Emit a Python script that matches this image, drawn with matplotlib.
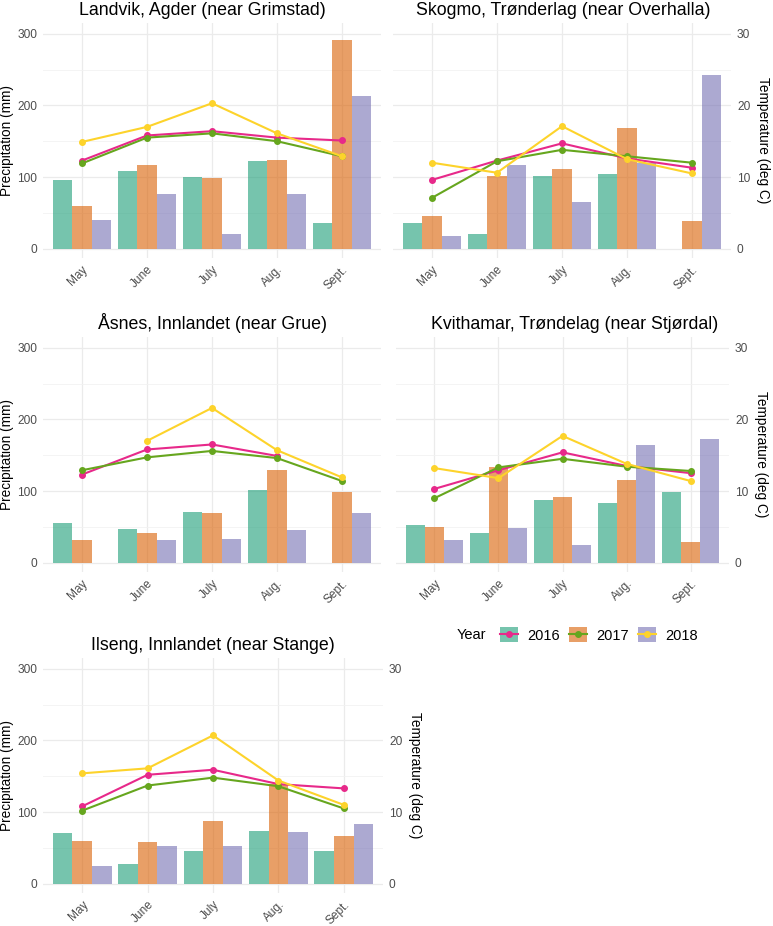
import numpy as np
import matplotlib
matplotlib.use("Agg")
import matplotlib.pyplot as plt
from matplotlib.patches import Patch
from matplotlib.lines import Line2D
from matplotlib.legend_handler import HandlerTuple

plt.rcParams["font.family"] = ["Liberation Sans", "DejaVu Sans"]

months = ["May", "June", "July", "Aug.", "Sept."]
years = ["2016", "2017", "2018"]

# precipitation (mm), one row per year
landvik_precip = [[96, 109, 100, 122, 36],
                  [60, 117, 99, 124, 291],
                  [40, 76, 21, 76, 213]]
landvik_temp = [[12.3, 15.8, 16.4, 15.5, 15.1],
                [11.9, 15.5, 16.1, 15.0, 12.9],
                [14.9, 17.0, 20.3, 16.1, 12.9]]

skogmo_precip = [[36, 20, 102, 104, np.nan],
                 [45, 102, 111, 168, 39],
                 [18, 117, 65, 119, 243]]
skogmo_temp = [[9.6, 12.3, 14.7, 12.6, 11.3],
               [7.1, 12.2, 13.8, 12.9, 12.0],
               [12.0, 10.6, 17.1, 12.5, 10.5]]

asnes_precip = [[55, 47, 71, 102, np.nan],
                [32, 42, 70, 130, 99],
                [np.nan, 31, 33, 45, 69]]
asnes_temp = [[12.3, 15.8, 16.5, 14.9, np.nan],
              [12.9, 14.7, 15.6, 14.6, 11.4],
              [np.nan, 17.0, 21.6, 15.7, 11.9]]

kvithamar_precip = [[53, 42, 87, 83, 99],
                    [50, 134, 91, 116, 29],
                    [32, 49, 24, 164, 173]]
kvithamar_temp = [[10.3, 12.9, 15.4, 13.5, 12.5],
                  [9.0, 13.3, 14.5, 13.4, 12.8],
                  [13.2, 11.8, 17.7, 13.8, 11.4]]

ilseng_precip = [[71, 28, 45, 73, 45],
                 [59, 58, 88, 139, 67],
                 [24, 52, 53, 72, 83]]
ilseng_temp = [[10.8, 15.2, 15.9, 13.9, 13.3],
               [10.2, 13.7, 14.8, 13.6, 10.5],
               [15.4, 16.1, 20.7, 14.4, 11.0]]

bar_colors = ["#1B9E77", "#D95F02", "#7570B3"]
line_colors = ["#E7298A", "#66A61E", "#FDD32B"]

W, H = 773, 926
fig = plt.figure(figsize=(W / 100, H / 100), dpi=100)

TICK = 8.6
LAB = 9.8


def panel(px, title, precip, temp, title_x, left=True, right=False):
    x0, y0, x1, y1 = px
    ax = fig.add_axes([x0 / W, 1 - y1 / H, (x1 - x0) / W, (y1 - y0) / H])
    x = np.arange(1, 6)
    for i in range(3):
        ax.bar(x + (i - 1) * 0.3, precip[i], width=0.3, color=bar_colors[i],
               alpha=0.6, linewidth=0, zorder=2)
    for i in range(3):
        ax.plot(x, np.array(temp[i]) * 10, color=line_colors[i], lw=1.5,
                marker="o", ms=4, zorder=3)
    ax.set_xlim(0.4, 5.6)
    ax.set_ylim(-13, 315)
    ax.set_yticks([0, 100, 200, 300])
    ax.set_yticks([50, 150, 250], minor=True)
    ax.set_xticks(x)
    ax.set_xticklabels(months, rotation=45, ha="right", rotation_mode="anchor")
    ax.grid(True, which="major", color="#EBEBEB", lw=0.9, zorder=0)
    ax.grid(True, which="minor", axis="y", color="#F2F2F2", lw=0.6, zorder=0)
    for s in ax.spines.values():
        s.set_visible(False)
    ax.tick_params(which="both", length=0, labelsize=TICK, colors="#4D4D4D")
    ax.tick_params(axis="x", pad=4)
    ax.tick_params(axis="y", pad=4.3)
    ax.set_title(title, fontsize=12.8, x=title_x, pad=6)
    if left:
        ax.set_ylabel("Precipitation (mm)", fontsize=LAB)
        ax.yaxis.set_label_coords((14 - x0) / (x1 - x0), 0.5)
    else:
        ax.set_yticklabels([])
    if right:
        sec = ax.secondary_yaxis("right", functions=(lambda v: v / 10, lambda t: t * 10))
        sec.set_yticks([0, 10, 20, 30])
        for s in sec.spines.values():
            s.set_visible(False)
        sec.tick_params(length=0, labelsize=TICK, colors="#4D4D4D", pad=4.3)
        sec.set_ylabel("Temperature (deg C)", fontsize=LAB, rotation=-90,
                       va="bottom", labelpad=4.5)
    return ax


panel((43, 23, 381, 258), "Landvik, Agder (near Grimstad)", landvik_precip, landvik_temp, 0.473)
panel((393, 23, 731, 258), "Skogmo, Trønderlag (near Overhalla)", skogmo_precip, skogmo_temp, 0.505,
      left=False, right=True)
panel((43, 337, 381, 572), "Åsnes, Innlandet (near Grue)", asnes_precip, asnes_temp, 0.5)
panel((396, 337, 729, 572), "Kvithamar, Trøndelag (near Stjørdal)", kvithamar_precip, kvithamar_temp, 0.535,
      left=False, right=True)
panel((43, 658, 383, 893), "Ilseng, Innlandet (near Stange)", ilseng_precip, ilseng_temp, 0.4985,
      left=True, right=True)

handles = [(Patch(facecolor=bar_colors[i], alpha=0.6, linewidth=0),
            Line2D([], [], color=line_colors[i], lw=1.5, marker="o", ms=4))
           for i in range(3)]
fig.legend(handles, years, handler_map={tuple: HandlerTuple(ndivide=1)},
           loc="center left", bbox_to_anchor=(500 / W, 1 - 635 / H), ncol=3,
           frameon=False, fontsize=10.5, handlelength=1.2, handleheight=1.2,
           handletextpad=0.65, columnspacing=0.65, borderpad=0, borderaxespad=0)
fig.text(457 / W, 1 - 635 / H, "Year", fontsize=10.5, va="center", ha="left")

fig.savefig("out.png", dpi=100)
